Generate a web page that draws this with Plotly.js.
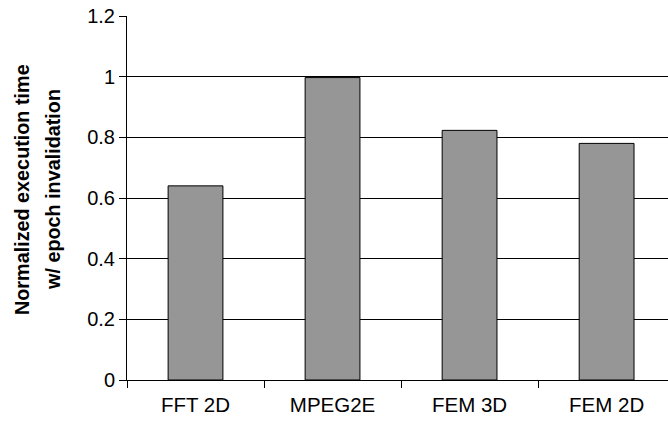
<!DOCTYPE html>
<html>
<head>
<meta charset="utf-8">
<script src="https://cdn.plot.ly/plotly-3.0.1.min.js"></script>
<style>html,body{margin:0;padding:0;background:#fff;}#chart{width:668px;height:425px;}</style>
</head>
<body>
<div id="chart"></div>
<script>
const categories = ["FFT 2D", "MPEG2E", "FEM 3D", "FEM 2D"];
const values = [0.64, 0.997, 0.823, 0.78];
const yTicks = [0, 0.2, 0.4, 0.6, 0.8, 1, 1.2];
const yTickLabels = ["0", "0.2", "0.4", "0.6", "0.8", "1", "1.2"];
const titleLines = ["Normalized execution time", "w/ epoch invalidation"];

const font = "Liberation Sans, Arial, sans-serif";
const trace = {
  type: "bar",
  x: categories,
  y: values,
  width: 0.4,
  marker: {color: "#969696", line: {color: "#000000", width: 1}},
  hoverinfo: "none"
};
const layout = {
  width: 668, height: 425,
  margin: {l: 127, r: 0, t: 15.5, b: 44.7, pad: 0},
  paper_bgcolor: "#ffffff", plot_bgcolor: "#ffffff",
  showlegend: false,
  font: {family: font, size: 20, color: "#000"},
  xaxis: {
    type: "category",
    range: [-0.5, 3.448],
    tickson: "boundaries",
    ticks: "outside", ticklen: 7, tickcolor: "#000", tickwidth: 1,
    ticklabelstandoff: 6,
    showline: true, linecolor: "#000", linewidth: 1,
    showgrid: false, zeroline: false,
    tickfont: {family: font, size: 20.5, color: "#000"},
    fixedrange: true
  },
  yaxis: {
    range: [0, 1.2],
    tickvals: yTicks, ticktext: yTickLabels,
    ticks: "outside", ticklen: 7, tickcolor: "#000", tickwidth: 1,
    showline: true, linecolor: "#000", linewidth: 1,
    showgrid: true, gridcolor: "#000", gridwidth: 1,
    zeroline: false,
    tickfont: {family: font, size: 20, color: "#000"},
    fixedrange: true
  },
  annotations: [
    {text: "<b>" + titleLines[0] + "</b>", textangle: -90, xref: "paper", yref: "paper",
     x: 0, y: 0.5, xanchor: "center", yanchor: "middle", xshift: -105, yshift: 8, showarrow: false,
     font: {family: font, size: 19.8, color: "#000"}},
    {text: "<b>" + titleLines[1] + "</b>", textangle: -90, xref: "paper", yref: "paper",
     x: 0, y: 0.5, xanchor: "center", yanchor: "middle", xshift: -74, yshift: 8, showarrow: false,
     font: {family: font, size: 19.8, color: "#000"}}
  ]
};
Plotly.newPlot("chart", [trace], layout, {staticPlot: true, displayModeBar: false});
</script>
</body>
</html>
